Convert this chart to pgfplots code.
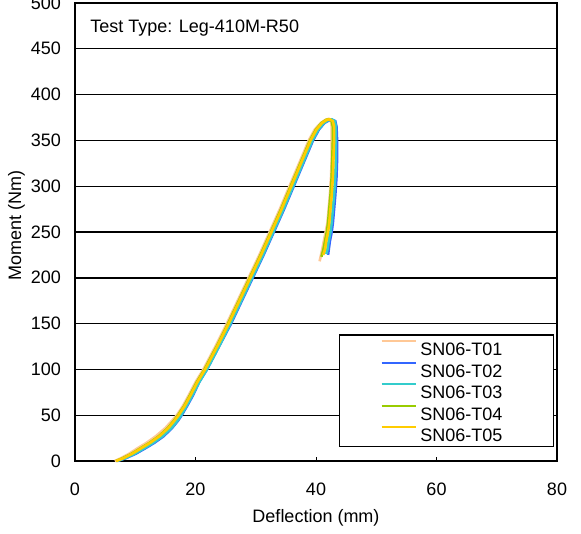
\documentclass[border=0pt]{standalone}
\usepackage{fontspec}
\setmainfont{Liberation Sans}
\usepackage{pgfplots}
\pgfplotsset{compat=1.18}
\definecolor{cTa}{HTML}{FFC896}
\definecolor{cTb}{HTML}{3366FF}
\definecolor{cTc}{HTML}{33CCCC}
\definecolor{cTd}{HTML}{99CC00}
\definecolor{cTe}{HTML}{FFCC00}
\begin{document}
\begin{tikzpicture}[font=\fontsize{18bp}{21.6bp}\selectfont]
\begin{axis}[
  scale only axis, width=482bp, height=458bp,
  xmin=0, xmax=80, ymin=0, ymax=500,
  xtick={0,20,...,80}, ytick={0,50,...,500},
  tick align=inside, xtick pos=bottom, ytick pos=left,
  major tick length=4bp,
  every tick/.style={black, line width=1bp},
  ymajorgrids, major grid style={black, line width=1.4bp},
  axis line style={line width=1.5bp},
  /pgf/number format/assume math mode=true,
  xticklabel style={anchor=north, inner sep=0pt, text height=13bp, yshift=-21bp},
  yticklabel style={anchor=east, inner sep=0pt, xshift=-14bp},
  xlabel={Deflection (mm)}, ylabel={Moment (Nm)},
  xlabel style={at={(rel axis cs:0.5,-0.1048)}, anchor=north, inner sep=0pt, text height=13bp},
  ylabel style={at={(rel axis cs:-0.1037,0.515)}, anchor=south, inner sep=0pt},
  legend style={at={(rel axis cs:0.9938,0.0306)}, anchor=south east, draw=black, line width=1.2bp, fill=white,
    inner xsep=0pt, inner ysep=4.5bp, row sep=5.7bp,
    nodes={inner sep=0pt, text height=15.9bp, text depth=0pt},
    /tikz/every even column/.append style={text width=133bp},
    /tikz/every odd column/.append style={column sep=3.7bp}},
  legend image code/.code={\path (0bp,0bp); \draw[#1, line width=2bp] (41bp,6.5bp) -- (75bp,6.5bp);},
  every axis plot/.append style={line width=2.6bp},
  clip=false,
]
\addplot[cTa] coordinates {
(6.6,0)(7.6,3)(9.0,8)(10.4,14)(11.9,20)(13.4,27)(15.0,36)(16.1,44)(16.9,50)(17.9,60)(18.9,72)(20.0,86)(21.3,100)(23.3,125)(25.2,150)(27.0,175)(28.8,200)(30.6,225)(32.3,250)(34.0,275)(35.6,300)(37.2,325)(38.8,350)(39.8,362)(40.8,369)(41.6,372.5)(42.1,373.5)
(42.5,371)(42.6,365)(42.6,350)(42.6,330)(42.5,310)(42.3,290)(42.1,275)(41.9,260)(41.6,250)(41.3,240)(41.0,230)(40.8,224)(40.6,218)};
\addlegendentry{SN06-T01}
\addplot[cTb] coordinates {
(7.0,0)(8.4,3)(10.1,8)(11.7,14)(13.2,20)(14.7,27)(16.1,36)(17.1,44)(17.7,50)(18.6,60)(19.6,72)(20.6,86)(21.9,100)(23.9,125)(25.9,150)(27.7,175)(29.5,200)(31.3,225)(33.0,250)(34.7,275)(36.3,300)(37.9,325)(39.5,350)(40.5,362)(41.4,369)(42.2,372)(42.7,372.5)
(43.2,371)(43.4,365)(43.5,350)(43.5,330)(43.4,310)(43.2,290)(43.0,275)(42.8,260)(42.6,250)(42.3,240)(42.1,230)(42.0,225)};
\addlegendentry{SN06-T02}
\addplot[cTc] coordinates {
(6.9,0)(8.3,3)(9.9,8)(11.5,14)(13.0,20)(14.5,27)(16.0,36)(17.0,44)(17.6,50)(18.5,60)(19.5,72)(20.6,86)(21.9,100)(23.9,125)(25.8,150)(27.6,175)(29.4,200)(31.2,225)(32.9,250)(34.6,275)(36.2,300)(37.8,325)(39.4,350)(40.4,362)(41.3,369)(42.1,372.5)(42.6,373)
(43.1,371)(43.3,365)(43.3,350)(43.3,330)(43.2,310)(43.0,290)(42.8,275)(42.6,260)(42.4,250)(42.1,240)(41.9,231)(41.7,226)};
\addlegendentry{SN06-T03}
\addplot[cTd] coordinates {
(6.8,0)(7.9,3)(9.4,8)(10.9,14)(12.4,20)(13.9,27)(15.4,36)(16.4,44)(17.1,50)(18.1,60)(19.1,72)(20.2,86)(21.5,100)(23.5,125)(25.4,150)(27.2,175)(29.0,200)(30.8,225)(32.5,250)(34.2,275)(35.8,300)(37.4,325)(39.0,350)(40.0,362)(40.9,369)(41.7,372.5)(42.2,373)
(42.6,371)(42.8,365)(42.8,350)(42.7,330)(42.6,310)(42.4,290)(42.2,275)(42.0,260)(41.8,250)(41.5,240)(41.2,230)(40.9,223)};
\addlegendentry{SN06-T04}
\addplot[cTe] coordinates {
(6.8,0)(8.0,3)(9.5,8)(11.0,14)(12.5,20)(14.0,27)(15.5,36)(16.5,44)(17.2,50)(18.2,60)(19.2,72)(20.3,86)(21.6,100)(23.6,125)(25.5,150)(27.3,175)(29.1,200)(30.9,225)(32.6,250)(34.3,275)(35.9,300)(37.5,325)(39.1,350)(40.1,362)(41.0,369)(41.8,372.5)(42.3,373)
(42.8,371)(43.0,365)(43.0,350)(42.9,330)(42.8,310)(42.6,290)(42.4,275)(42.2,260)(42.0,250)(41.7,240)(41.5,231)(41.2,225)};
\addlegendentry{SN06-T05}
\node[anchor=base west, inner sep=0pt] at (axis cs:2.5,468) {Test Type: Leg-410M-R50};
\coordinate (sw) at (rel axis cs:0,0);
\coordinate (ne) at (rel axis cs:1,1);
\end{axis}
\pgfresetboundingbox
\path ([shift={(-75bp,-72bp)}]sw) rectangle ([shift={(24bp,3bp)}]ne);
\end{tikzpicture}
\end{document}
